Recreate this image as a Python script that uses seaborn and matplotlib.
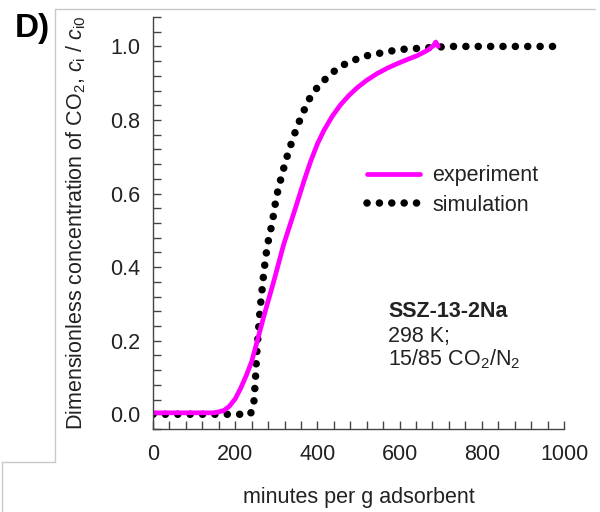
import matplotlib
matplotlib.use("Agg")
import matplotlib.pyplot as plt
from matplotlib.lines import Line2D
from matplotlib.ticker import MultipleLocator
import seaborn as sns
import pandas as pd

# --- data ---
exp_x = [0, 150, 172, 186, 200, 213, 226, 240, 255, 270, 294, 318, 343, 367,
         383, 400, 416, 436, 456, 476, 497, 520, 545, 570, 594, 620, 643,
         667, 683, 688, 694]
exp_y = [0.004, 0.004, 0.01, 0.022, 0.042, 0.07, 0.103, 0.143, 0.205, 0.268,
         0.362, 0.462, 0.548, 0.633, 0.686, 0.735, 0.772, 0.81, 0.841, 0.866,
         0.888, 0.908, 0.926, 0.941, 0.953, 0.965, 0.975, 0.989, 1.003, 1.012,
         1.0]

sim_x = [0, 237, 245, 249, 252, 256, 261, 270, 278, 290, 300, 314, 326, 339,
         350, 363, 379, 400, 428, 456, 487, 517, 545, 576, 606, 663, 720, 980]
sim_y = [0.0, 0.0, 0.026, 0.09, 0.158, 0.22, 0.29, 0.39, 0.458, 0.52, 0.59,
         0.653, 0.70, 0.745, 0.78, 0.815, 0.855, 0.889, 0.921, 0.946, 0.962,
         0.974, 0.980, 0.987, 0.992, 0.996, 1.0, 1.0]

x_ticks = [0, 200, 400, 600, 800, 1000]
y_ticks = [0.0, 0.2, 0.4, 0.6, 0.8, 1.0]

sns.set_theme(style="ticks")
plt.rcParams["font.family"] = ["Liberation Sans", "DejaVu Sans"]
plt.rcParams["mathtext.fontset"] = "custom"
plt.rcParams["mathtext.rm"] = "Liberation Sans"
plt.rcParams["mathtext.it"] = "Liberation Sans:italic"
plt.rcParams["mathtext.bf"] = "Liberation Sans:bold"

FS = 15.5
TXT = "#222222"

fig = plt.figure(figsize=(6, 5.12), dpi=100)
ax = fig.add_axes([153 / 600, 1 - 429 / 512, 411 / 600, (429 - 17) / 512])

df_exp = pd.DataFrame({"x": exp_x, "y": exp_y})
df_sim = pd.DataFrame({"x": sim_x, "y": sim_y})

sns.lineplot(data=df_exp, x="x", y="y", ax=ax, color="#ff00ff", lw=3.4,
             label="experiment", sort=False, estimator=None)
sns.lineplot(data=df_sim, x="x", y="y", ax=ax, color="black", lw=5.4,
             label="simulation", sort=False, estimator=None)
sim_line = ax.lines[-1]
sim_line.set_linestyle((0, (0.01, 1.64)))
sim_line.set_dash_capstyle("round")
sim_line.set_zorder(1.5)

ax.set_xlim(0, 1000)
ax.set_ylim(-0.04, 1.08)
ax.set_xticks(x_ticks)
ax.set_yticks(y_ticks)
ax.set_xticklabels([str(v) for v in x_ticks])
ax.set_yticklabels([f"{v:.1f}" for v in y_ticks])
ax.xaxis.set_minor_locator(MultipleLocator(40))
ax.yaxis.set_minor_locator(MultipleLocator(0.04))

tick_col = "#444444"
ax.tick_params(axis="both", which="both", direction="in", length=6,
               width=1, color=tick_col, labelsize=FS, labelcolor=TXT)
ax.tick_params(axis="y", which="both", pad=9)
ax.tick_params(axis="x", which="both", pad=11)
sns.despine(ax=ax)
for s in ["left", "bottom"]:
    ax.spines[s].set_color(tick_col)
    ax.spines[s].set_linewidth(1)

ax.set_xlabel("minutes per g adsorbent", fontsize=FS, labelpad=15.5, color=TXT)
ax.set_ylabel(r"Dimensionless concentration of CO$_2$, $c_\mathrm{i}$ / $c_\mathrm{i0}$",
              fontsize=FS, labelpad=16, color=TXT)

leg = ax.legend(loc="upper left", bbox_to_anchor=(0.521, 0.640), frameon=False,
                fontsize=FS, handlelength=2.46, handletextpad=0.56,
                labelspacing=0.39, borderaxespad=0, borderpad=0)
for t in leg.get_texts():
    t.set_color(TXT)

ax.text(0.572, 0.2726, "SSZ-13-2Na", transform=ax.transAxes, fontsize=FS,
        fontweight="bold", color=TXT, va="baseline")
ax.text(0.572, 0.2119, "298 K;", transform=ax.transAxes, fontsize=FS,
        color=TXT, va="baseline")
ax.text(0.572, 0.1553, r"15/85 CO$_2$/N$_2$", transform=ax.transAxes,
        fontsize=FS, color=TXT, va="baseline")

fig.text(32 / 600, 1 - 28 / 512, "D)", fontsize=24, fontweight="bold",
         ha="center", va="center", color="black")

# light grey panel frame
fc = "#c8c8c8"
def fl(x0, y0, x1, y1):
    fig.add_artist(Line2D([x0 / 600, x1 / 600], [1 - y0 / 512, 1 - y1 / 512],
                          color=fc, lw=1, transform=fig.transFigure))
fl(55, 9, 595, 9)
fl(55, 9, 55, 462)
fl(2, 462, 55, 462)
fl(2, 462, 2, 512)

fig.savefig("out.png", dpi=100)
